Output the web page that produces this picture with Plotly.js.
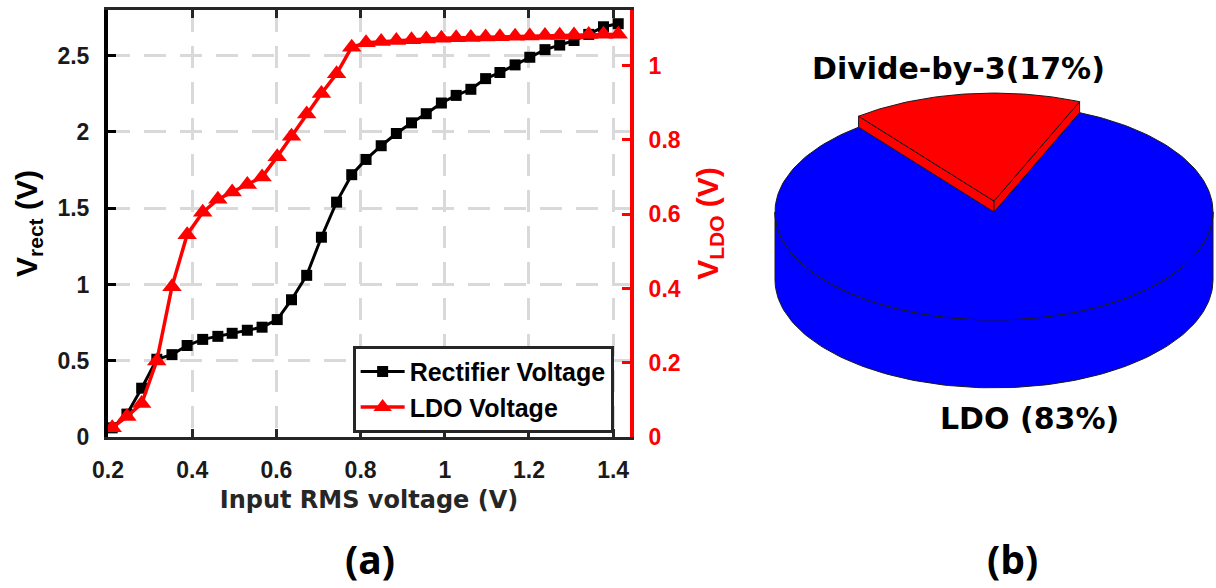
<!DOCTYPE html>
<html>
<head>
<meta charset="utf-8">
<script src="https://cdn.plot.ly/plotly-3.0.1.min.js"></script>
<style>html,body{margin:0;padding:0;background:#fff;}#chart{width:1216px;height:588px;}</style>
</head>
<body>
<div id="chart"></div>
<script>
// ---- Data (a): input RMS voltage sweep ----
const inputVrms = [0.21,0.245,0.28,0.316,0.352,0.388,0.425,0.461,0.495,0.531,0.566,0.602,0.636,0.672,0.707,0.743,0.779,0.813,0.849,0.885,0.921,0.956,0.992,1.027,1.062,1.097,1.131,1.167,1.202,1.238,1.273,1.307,1.342,1.377,1.412];
const rectifierV = [0.06,0.15,0.32,0.51,0.54,0.60,0.64,0.66,0.68,0.70,0.72,0.77,0.90,1.06,1.31,1.54,1.72,1.82,1.91,1.99,2.06,2.12,2.19,2.24,2.28,2.35,2.39,2.44,2.49,2.54,2.57,2.60,2.64,2.69,2.71];
const ldoV = [0.025,0.055,0.09,0.205,0.405,0.545,0.605,0.64,0.66,0.68,0.70,0.755,0.81,0.87,0.925,0.978,1.05,1.062,1.065,1.068,1.07,1.072,1.074,1.075,1.076,1.077,1.078,1.079,1.08,1.081,1.082,1.083,1.084,1.085,1.085];
const seriesNames = ['Rectifier Voltage', 'LDO Voltage'];
const xTicks = [0.2,0.4,0.6,0.8,1,1.2,1.4];
const xTickText = ['0.2','0.4','0.6','0.8','1','1.2','1.4'];
const yTicks = [0,0.5,1,1.5,2,2.5];
const yTickText = ['0','0.5','1','1.5','2','2.5'];
const y2Ticks = [0,0.2,0.4,0.6,0.8,1];
const y2TickText = ['0','0.2','0.4','0.6','0.8','1'];

// ---- Data (b): power breakdown ----
const pieLabels = ['LDO', 'Divide-by-3'];
const pieValues = [83, 17];
const pieColors = ['#0000ff', '#ff0000'];

// ---- Pie geometry (style) ----
const B = 0.493;      // ellipse minor/major ratio
const DEPTH = 0.31;   // side wall thickness
const RAISE = 0.05;   // exploded slice lift
const SLICE_START = 67; // deg, start of small slice
const EDGE = '#1a1a1a';

function arc(t0, t1, dy, n) {
  const xs = [], ys = [];
  for (let i = 0; i <= n; i++) {
    const t = (t0 + (t1 - t0) * i / n) * Math.PI / 180;
    xs.push(Math.cos(t)); ys.push(B * Math.sin(t) + dy);
  }
  return [xs, ys];
}
function poly(xs, ys, fill) {
  return {x: xs.concat([xs[0]]), y: ys.concat([ys[0]]), xaxis: 'x3', yaxis: 'y3', mode: 'lines',
    fill: 'toself', fillcolor: fill, line: {color: EDGE, width: 1}, hoverinfo: 'skip', showlegend: false};
}

const total = pieValues.reduce((s, v) => s + v, 0);
const smallSpan = 360 * pieValues[1] / total;
const sA = SLICE_START, sB = SLICE_START + smallSpan;

const pieTraces = [];
// blue side wall (front half)
{
  const [tx, ty] = arc(180, 360, 0, 120);
  const [bx, by] = arc(360, 180, -DEPTH, 120);
  pieTraces.push(poly(tx.concat(bx), ty.concat(by), pieColors[0]));
}
// blue top surface
{
  const [tx, ty] = arc(0, 360, 0, 240);
  pieTraces.push(poly(tx, ty, pieColors[0]));
}
// red slice radial faces + top
{
  const cA = [Math.cos(sB * Math.PI / 180), B * Math.sin(sB * Math.PI / 180)];
  const cB = [Math.cos(sA * Math.PI / 180), B * Math.sin(sA * Math.PI / 180)];
  pieTraces.push(poly([0, cA[0], cA[0], 0], [RAISE, cA[1] + RAISE, cA[1], 0], pieColors[1]));
  pieTraces.push(poly([0, cB[0], cB[0], 0], [RAISE, cB[1] + RAISE, cB[1], 0], pieColors[1]));
  const [ax, ay] = arc(sA, sB, RAISE, 60);
  pieTraces.push(poly([0].concat(ax), [RAISE].concat(ay), pieColors[1]));
}

const tickFont = {family: 'Liberation Sans, Arial, sans-serif', size: 23, weight: 'bold', color: '#1a1a1a'};
const gridDash = '22px,14px';

const traces = [
  {x: inputVrms, y: rectifierV, name: seriesNames[0], type: 'scatter', mode: 'lines+markers',
   line: {color: '#000000', width: 3}, marker: {symbol: 'square', size: 11, color: '#000000'}, xaxis: 'x', yaxis: 'y'},
  {x: inputVrms, y: ldoV, name: seriesNames[1], type: 'scatter', mode: 'lines+markers',
   line: {color: '#ff0000', width: 3.5}, marker: {symbol: 'triangle-up', size: 17, color: '#ff0000'}, xaxis: 'x', yaxis: 'y2'}
].concat(pieTraces);

const layout = {
  width: 1216, height: 588, autosize: false,
  margin: {l: 0, r: 0, t: 0, b: 0},
  paper_bgcolor: '#ffffff', plot_bgcolor: '#ffffff',
  showlegend: true,
  legend: {x: 0.290, y: 0.412, xanchor: 'left', yanchor: 'top', bgcolor: '#ffffff',
    bordercolor: '#262626', borderwidth: 3, tracegroupgap: 0, itemwidth: 44,
    font: {family: 'Liberation Sans, Arial, sans-serif', size: 25, weight: 'bold', color: '#000'}},
  xaxis: {domain: [0.0888, 0.5181], range: [0.2, 1.44], tickvals: xTicks, ticktext: xTickText,
    showgrid: true, gridcolor: '#d9d9d9', griddash: gridDash, gridwidth: 3, zeroline: false,
    showline: true, linecolor: '#262626', linewidth: 3, mirror: 'ticks',
    ticks: 'inside', ticklen: 8, tickwidth: 3, tickcolor: '#262626', tickfont: tickFont, ticklabelstandoff: 10,
    title: {text: 'Input RMS voltage (V)', standoff: 10,
      font: {family: 'DejaVu Sans, sans-serif', size: 24, weight: 'bold', color: '#262626'}},
    anchor: 'y'},
  yaxis: {domain: [0.2568, 0.983], range: [0, 2.8], tickvals: yTicks, ticktext: yTickText,
    showgrid: true, gridcolor: '#d9d9d9', griddash: gridDash, gridwidth: 3, zeroline: false,
    showline: true, linecolor: '#000000', linewidth: 4,
    ticks: 'inside', ticklen: 8, tickwidth: 3, tickcolor: '#000000', tickfont: tickFont, ticklabelstandoff: 10,
    title: {text: 'V<sub>rect</sub> (V)', standoff: 12,
      font: {family: 'Liberation Sans, Arial, sans-serif', size: 30, weight: 'bold', color: '#000'}},
    anchor: 'x'},
  yaxis2: {overlaying: 'y', side: 'right', anchor: 'x', range: [0, 1.15], tickvals: y2Ticks, ticktext: y2TickText,
    showgrid: false, zeroline: false, showline: true, linecolor: '#ff0000', linewidth: 4,
    ticks: 'inside', ticklen: 8, tickwidth: 3, tickcolor: '#ff0000', ticklabelstandoff: 10,
    tickfont: Object.assign({}, tickFont, {color: '#ff0000'}),
    title: {text: 'V<sub>LDO</sub> (V)', standoff: 18,
      font: {family: 'Liberation Sans, Arial, sans-serif', size: 30, weight: 'bold', color: '#ff0000'}}},
  xaxis3: {domain: [0.625, 1], range: [-1.0685, 1.0137], visible: false, fixedrange: true, anchor: 'y3'},
  yaxis3: {domain: [0.2007, 1], range: [-1.178, 0.968], visible: false, fixedrange: true, anchor: 'x3'},
  annotations: [
    {xref: 'paper', yref: 'paper', x: 0.788, y: 0.884, xanchor: 'center', yanchor: 'middle', showarrow: false,
     text: pieLabels[1] + '(' + pieValues[1] + '%)',
     font: {family: 'DejaVu Sans, sans-serif', size: 30, weight: 'bold', color: '#000'}},
    {xref: 'paper', yref: 'paper', x: 0.847, y: 0.289, xanchor: 'center', yanchor: 'middle', showarrow: false,
     text: pieLabels[0] + ' (' + pieValues[0] + '%)',
     font: {family: 'DejaVu Sans, sans-serif', size: 30, weight: 'bold', color: '#000'}},
    {xref: 'paper', yref: 'paper', x: 0.304, y: 0.051, xanchor: 'center', yanchor: 'middle', showarrow: false,
     text: '(a)', font: {family: 'Open Sans, sans-serif', size: 39, weight: 'bold', color: '#000'}},
    {xref: 'paper', yref: 'paper', x: 0.833, y: 0.051, xanchor: 'center', yanchor: 'middle', showarrow: false,
     text: '(b)', font: {family: 'Open Sans, sans-serif', size: 39, weight: 'bold', color: '#000'}}
  ]
};

Plotly.newPlot('chart', traces, layout, {staticPlot: true, displayModeBar: false});
</script>
</body>
</html>
